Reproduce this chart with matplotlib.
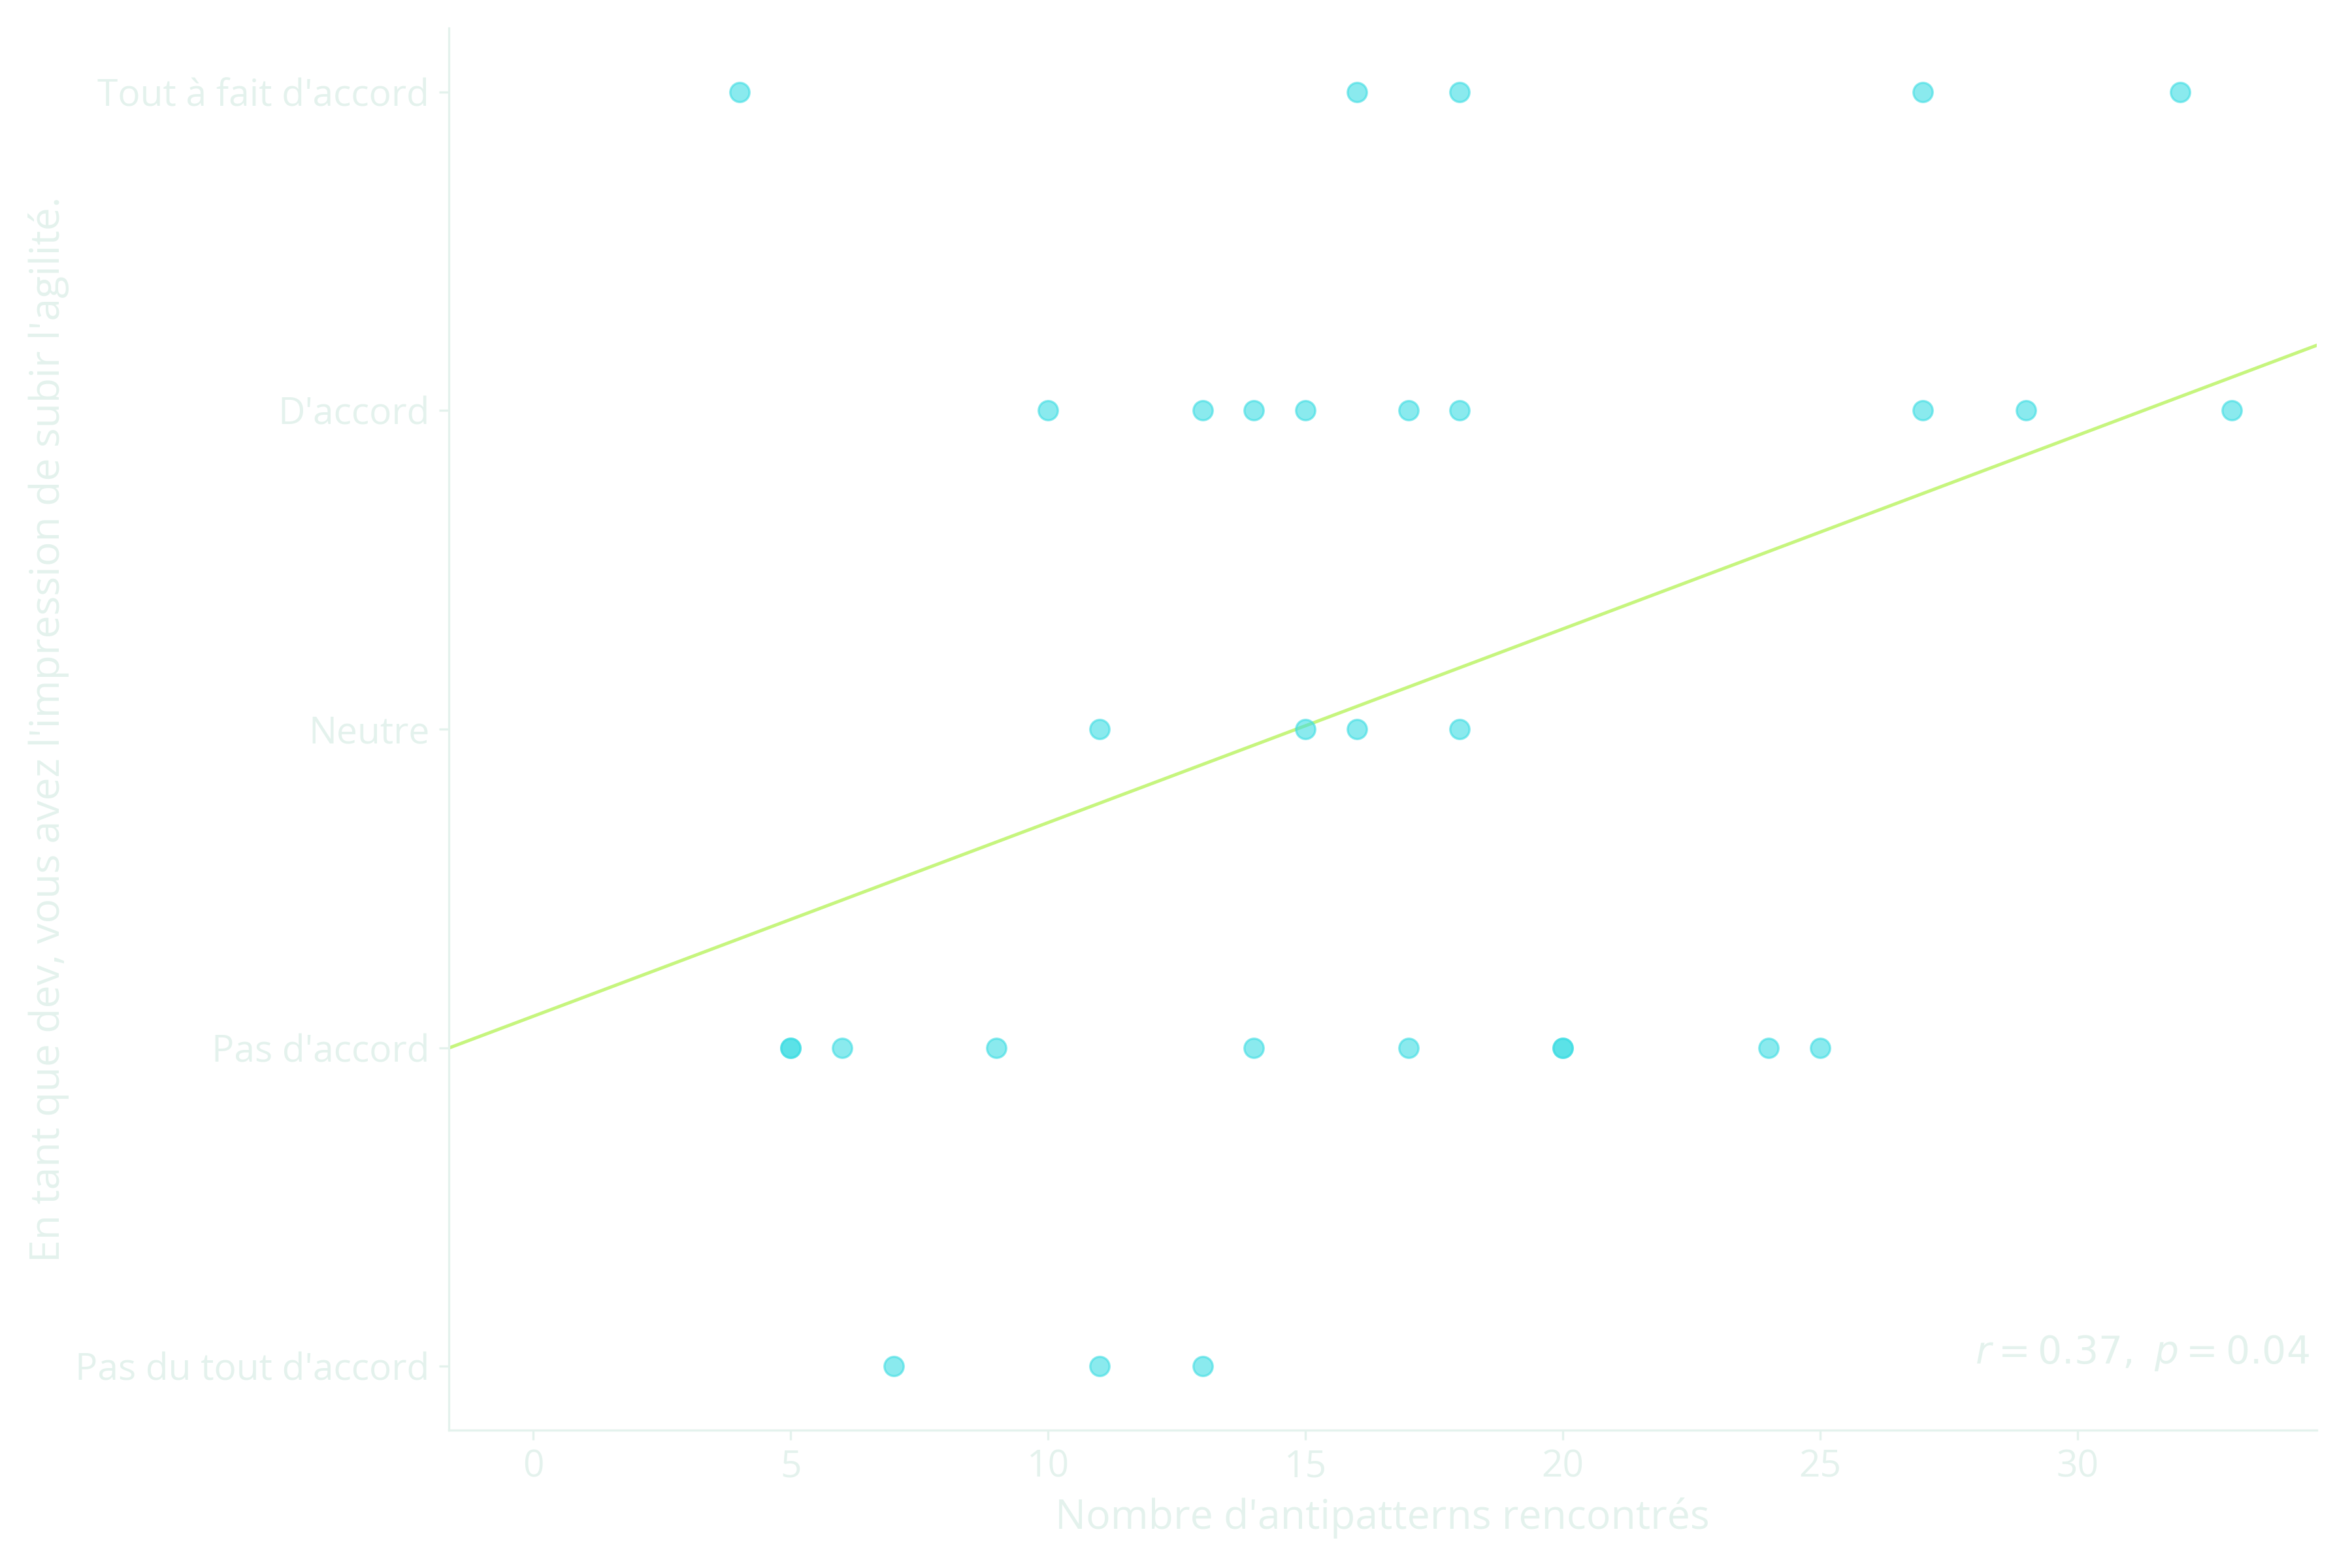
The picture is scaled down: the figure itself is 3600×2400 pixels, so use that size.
import numpy as np
from matplotlib import pyplot as plt

# Likert answers per level, x = number of antipatterns met
levels = ["Pas du tout d'accord", "Pas d'accord", "Neutre", "D'accord", "Tout à fait d'accord"]
x_pas_du_tout = [7, 11, 13]
x_pas_accord = [5, 5, 6, 9, 14, 17, 20, 20, 24, 25]
x_neutre = [11, 15, 16, 18]
x_accord = [10, 13, 14, 15, 17, 18, 27, 29, 33]
x_tout_a_fait = [4, 16, 18, 27, 32]
r_value = 0.37
p_value = 0.04

groups = [x_pas_du_tout, x_pas_accord, x_neutre, x_accord, x_tout_a_fait]
xs = np.array([v for g in groups for v in g], dtype=float)
ys = np.array([i for i, g in enumerate(groups) for _ in g], dtype=float)

txt = '#e4f2ed'
plt.rcParams['font.family'] = ['Open Sans', 'DejaVu Sans']

fig, ax = plt.subplots(figsize=(12, 8), dpi=300)
fig.subplots_adjust(left=0.1907, right=0.985, top=0.982, bottom=0.088)

ax.scatter(xs, ys, s=50, color='#3ddde3', alpha=0.6, edgecolors='#3ddde3', linewidths=0.8, zorder=3)

xlim = (-1.65, 34.65)
slope, intercept = np.polyfit(xs, ys, 1)
lx = np.array(xlim)
ax.plot(lx, slope * lx + intercept, color='#c6f57e', lw=1.2, zorder=2)

ax.set_xlim(*xlim)
ax.set_ylim(-0.2, 4.2)
ax.set_yticks(range(5))
ax.set_yticklabels(levels)
ax.set_xticks(range(0, 35, 5))

ax.set_xlabel("Nombre d'antipatterns rencontrés", color=txt, fontsize=15)
ax.set_ylabel("En tant que dev, vous avez l'impression de subir l'agilité.", color=txt, fontsize=15)
ax.yaxis.set_label_coords(-0.203, 0.5)
ax.tick_params(colors=txt, labelsize=13.7, width=0.8)
for s in ['top', 'right']:
    ax.spines[s].set_visible(False)
for s in ['left', 'bottom']:
    ax.spines[s].set_color(txt)
    ax.spines[s].set_linewidth(0.8)

ax.text(0.996, 0.055, r'$r = %.2f,\ p = %.2f$' % (r_value, p_value), transform=ax.transAxes,
        ha='right', va='center', color=txt, fontsize=14, family='DejaVu Sans')

plt.savefig('out.png', dpi=300)
